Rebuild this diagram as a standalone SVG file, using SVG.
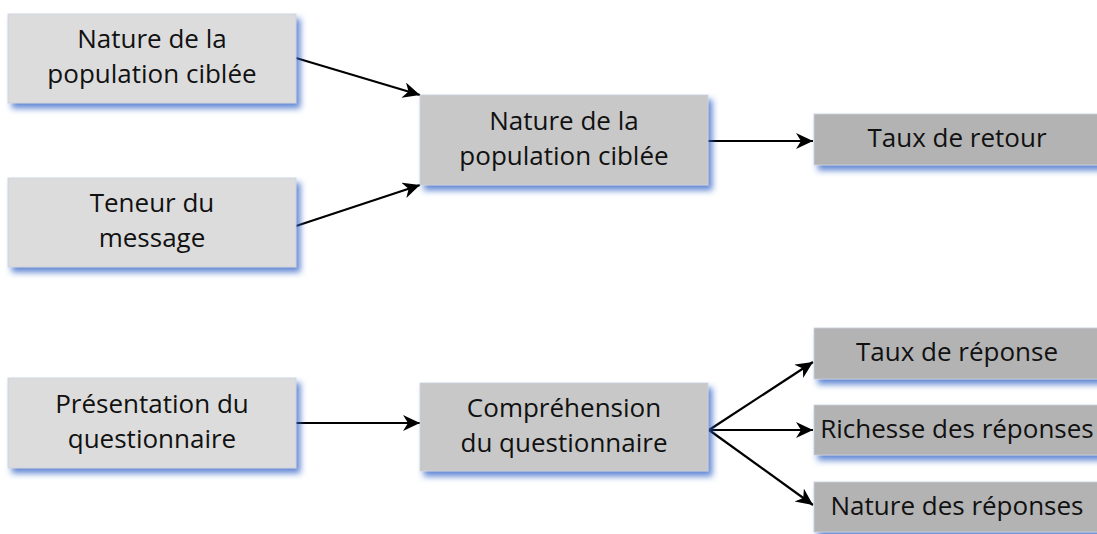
<svg xmlns="http://www.w3.org/2000/svg" width="1097" height="534" viewBox="0 0 1097 534">
<style>
text{font-family:"Open Sans","DejaVu Sans",sans-serif;font-size:26px;fill:#111;text-anchor:middle}
.l{fill:#dcdcdc}
.m{fill:#c8c8c8}
.r{fill:#b3b3b3}
.box{filter:url(#sh);stroke:#c9cfdc;stroke-width:0.8}
.c{stroke:#000;stroke-width:2.2;fill:none;marker-end:url(#ah)}
</style>
<defs>
<filter id="sh" x="-10%" y="-20%" width="125%" height="150%">
<feDropShadow dx="4" dy="5" stdDeviation="3" flood-color="#2f5fc4" flood-opacity="0.75"/>
</filter>
<marker id="ah" markerUnits="userSpaceOnUse" markerWidth="20" markerHeight="18" refX="17" refY="8" orient="auto">
<path d="M0,0 L17,8 L0,16 L5,8 z" fill="#000"/>
</marker>
</defs>
<rect width="1097" height="534" fill="#fff"/>
<g id="connectors">
<line class="c" x1="296" y1="58" x2="420" y2="95"/>
<line class="c" x1="296" y1="226" x2="420" y2="185"/>
<line class="c" x1="708" y1="141" x2="813" y2="141"/>
<line class="c" x1="296" y1="423" x2="420" y2="423"/>
<line class="c" x1="709" y1="430" x2="813" y2="362"/>
<line class="c" x1="709" y1="430" x2="813" y2="430"/>
<line class="c" x1="709" y1="430" x2="813" y2="505"/>
</g>
<g id="n1"><rect class="box l" x="8" y="14" width="288" height="89"/><text x="152" y="48">Nature de la</text><text x="152" y="83">population ciblée</text></g>
<g id="n2"><rect class="box l" x="8" y="178" width="288" height="89"/><text x="152" y="212">Teneur du</text><text x="152" y="247">message</text></g>
<g id="n3"><rect class="box m" x="420" y="95" width="288" height="90"/><text x="564" y="130">Nature de la</text><text x="564" y="165">population ciblée</text></g>
<g id="n4"><rect class="box r" x="814" y="114" width="290" height="51"/><text x="957" y="147">Taux de retour</text></g>
<g id="n5"><rect class="box l" x="8" y="378" width="288" height="90"/><text x="152" y="413">Présentation du</text><text x="152" y="448">questionnaire</text></g>
<g id="n6"><rect class="box m" x="420" y="383" width="288" height="88"/><text x="564" y="417">Compréhension</text><text x="564" y="452">du questionnaire</text></g>
<g id="n7"><rect class="box r" x="814" y="328" width="290" height="51"/><text x="957" y="361">Taux de réponse</text></g>
<g id="n8"><rect class="box r" x="814" y="405" width="290" height="50"/><text x="957" y="438">Richesse des réponses</text></g>
<g id="n9"><rect class="box r" x="814" y="482" width="290" height="50"/><text x="957" y="515">Nature des réponses</text></g>
</svg>
